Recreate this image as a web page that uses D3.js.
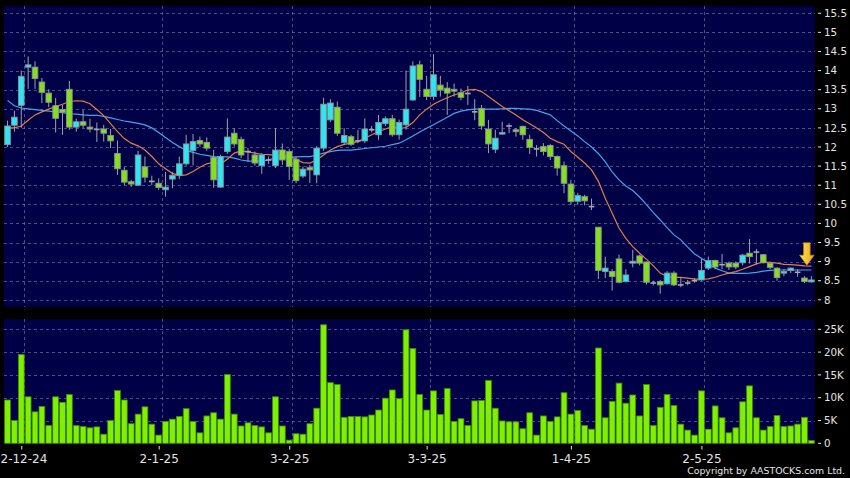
<!DOCTYPE html>
<html><head><meta charset="utf-8">
<script src="https://cdn.jsdelivr.net/npm/d3@7"></script>
<style>html,body{margin:0;padding:0;background:#000;}svg{display:block;}</style>
</head><body>
<svg id="chart" width="850" height="478"></svg>
<script>
const dates = [
"2024-11-28","2024-11-29",
"2024-12-02","2024-12-03","2024-12-04","2024-12-05","2024-12-06",
"2024-12-09","2024-12-10","2024-12-11","2024-12-12","2024-12-13",
"2024-12-16","2024-12-17","2024-12-18","2024-12-19","2024-12-20",
"2024-12-23","2024-12-24","2024-12-27","2024-12-30","2024-12-31",
"2025-01-02","2025-01-03",
"2025-01-06","2025-01-07","2025-01-08","2025-01-09","2025-01-10",
"2025-01-13","2025-01-14","2025-01-15","2025-01-16","2025-01-17",
"2025-01-20","2025-01-21","2025-01-22","2025-01-23","2025-01-24",
"2025-01-27","2025-01-28",
"2025-02-03","2025-02-04","2025-02-05","2025-02-06","2025-02-07",
"2025-02-10","2025-02-11","2025-02-12","2025-02-13","2025-02-14",
"2025-02-17","2025-02-18","2025-02-19","2025-02-20","2025-02-21",
"2025-02-24","2025-02-25","2025-02-26","2025-02-27","2025-02-28",
"2025-03-03","2025-03-04","2025-03-05","2025-03-06","2025-03-07",
"2025-03-10","2025-03-11","2025-03-12","2025-03-13","2025-03-14",
"2025-03-17","2025-03-18","2025-03-19","2025-03-20","2025-03-21",
"2025-03-24","2025-03-25","2025-03-26","2025-03-27","2025-03-28",
"2025-03-31",
"2025-04-01","2025-04-02","2025-04-03",
"2025-04-07","2025-04-08","2025-04-09","2025-04-10","2025-04-11",
"2025-04-14","2025-04-15","2025-04-16","2025-04-17",
"2025-04-22","2025-04-23","2025-04-24","2025-04-25",
"2025-04-28","2025-04-29","2025-04-30",
"2025-05-02",
"2025-05-06","2025-05-07","2025-05-08","2025-05-09",
"2025-05-12","2025-05-13","2025-05-14","2025-05-15","2025-05-16",
"2025-05-19","2025-05-20","2025-05-21","2025-05-22","2025-05-23",
"2025-05-26","2025-05-27"
];
const open = [
12.06,12.57,13.09,14.09,14.09,13.70,13.41,13.08,12.98,13.51,
12.52,12.66,12.52,12.46,12.47,12.30,11.83,11.39,11.09,11.00,
11.48,11.10,11.05,10.88,11.16,11.26,11.56,11.91,12.17,12.12,
11.73,10.95,11.88,12.36,12.20,11.88,11.79,11.51,11.66,11.51,
11.92,11.88,11.68,11.24,11.46,11.27,11.97,12.71,13.04,12.12,
12.27,12.16,12.16,12.45,12.32,12.61,12.74,12.32,12.58,13.23,
14.15,13.51,13.32,13.62,13.54,13.51,13.42,13.40,12.92,13.01,
12.47,11.94,12.34,12.55,12.45,12.54,12.20,11.95,12.01,12.04,
11.75,11.51,11.03,10.58,10.70,10.44,9.90,8.74,8.74,9.07,
8.48,8.96,9.15,8.99,8.44,8.48,8.42,8.70,8.39,8.44,
8.50,8.52,8.83,9.03,8.92,8.96,8.96,8.97,9.22,9.25,
9.18,8.96,8.83,8.70,8.77,8.72,8.57,8.47
];
const close = [
12.55,12.78,13.85,14.15,13.79,13.43,13.17,12.75,12.91,12.52,
12.66,12.57,12.47,12.46,12.36,12.16,11.43,11.08,11.03,11.79,
11.21,11.10,10.94,10.95,11.26,11.56,12.08,12.14,12.08,11.97,
11.14,11.75,12.26,12.08,11.79,11.88,11.58,11.79,11.66,11.92,
11.66,11.49,11.12,11.42,11.40,11.97,13.12,13.15,12.36,12.30,
12.07,12.16,12.47,12.45,12.64,12.74,12.32,12.64,12.99,14.12,
13.77,13.32,13.89,13.49,13.41,13.46,13.30,13.40,12.92,12.55,
12.08,12.23,12.38,12.55,12.40,12.32,11.99,11.95,11.88,11.75,
11.45,11.05,10.57,10.73,10.59,10.44,8.77,8.83,8.61,8.46,
8.65,9.01,8.96,8.46,8.44,8.39,8.70,8.39,8.39,8.44,
8.50,8.77,9.03,8.86,8.92,8.86,8.86,9.17,9.13,9.25,
8.97,8.85,8.58,8.74,8.83,8.72,8.48,8.52
];
const high = [
12.69,12.95,14.00,14.37,14.24,13.81,13.51,13.28,13.10,13.73,
12.74,12.97,12.74,12.64,12.58,12.47,12.17,11.47,11.14,11.90,
11.75,11.25,11.18,11.35,11.34,11.75,12.32,12.34,12.27,12.25,
11.92,11.80,12.75,12.49,12.27,11.97,11.88,11.84,11.75,12.49,
12.09,11.95,11.75,11.49,11.53,12.02,13.29,13.25,13.19,12.49,
12.32,12.45,12.75,12.55,12.84,12.80,12.84,12.72,14.00,14.24,
14.26,13.86,14.43,13.86,13.70,13.66,13.53,13.60,13.25,13.10,
12.71,12.45,12.66,12.62,12.50,12.56,12.32,12.05,12.10,12.08,
11.78,11.62,11.14,10.80,10.75,10.65,9.90,9.13,8.80,9.18,
8.80,9.31,9.18,9.00,8.50,8.52,8.75,8.75,8.58,8.52,
8.57,9.07,9.13,9.05,9.20,9.00,9.00,9.20,9.59,9.33,
9.20,8.98,8.85,8.80,8.85,8.80,8.62,8.62
];
const low = [
12.00,12.40,12.50,13.52,13.52,13.15,13.04,12.38,12.32,12.45,
12.40,12.49,12.38,12.13,12.14,11.97,11.27,11.00,10.96,11.00,
11.07,11.00,10.88,10.70,10.92,11.16,11.51,11.52,12.01,11.90,
10.93,10.93,11.82,12.01,11.71,11.62,11.51,11.30,11.55,11.45,
11.53,11.14,11.05,11.19,11.06,11.05,11.90,12.65,12.29,12.05,
12.03,12.10,12.10,12.38,12.19,12.55,12.27,12.19,12.45,13.20,
13.31,13.23,13.23,13.32,12.84,13.32,13.22,13.10,12.70,12.45,
11.84,11.84,12.32,12.36,12.27,12.19,11.82,11.75,11.78,11.66,
11.25,10.79,10.49,10.49,10.47,10.35,8.54,8.57,8.24,8.43,
8.45,8.85,8.90,8.40,8.38,8.16,8.40,8.36,8.33,8.38,
8.45,8.50,8.78,8.80,8.80,8.78,8.80,8.90,8.95,8.92,
8.95,8.80,8.50,8.62,8.70,8.60,8.44,8.45
];
// volume in thousands of shares
const volumeK = [
9.5,5.0,19.5,10.2,6.9,8.1,3.9,10.2,9.0,10.7,
3.9,3.7,3.4,3.6,2.0,5.0,11.6,9.5,4.3,6.4,
8.0,4.2,1.8,4.8,5.3,5.9,7.6,4.8,2.3,6.0,
6.7,5.3,15.1,6.4,3.8,4.5,3.9,3.6,2.3,10.2,
3.8,0.7,2.1,2.0,4.3,7.7,26.0,13.3,12.9,5.7,
5.9,5.9,5.8,6.2,7.3,9.9,11.7,9.8,24.9,20.8,
10.7,7.3,11.5,6.3,12.0,4.8,5.4,3.9,9.3,9.4,
13.8,7.7,4.9,4.7,4.7,3.2,6.7,1.8,6.0,4.8,
5.8,11.1,6.4,7.2,3.9,3.1,20.9,5.6,9.2,13.2,
8.8,10.6,6.0,12.9,3.9,7.9,10.7,8.3,4.2,2.9,
1.8,11.5,3.1,8.2,5.6,2.3,3.4,9.1,12.6,5.6,
2.9,3.7,6.1,3.7,3.8,4.2,5.7,0.6
];
// moving averages
const ma10 = [
12.50,12.50,12.55,12.70,12.84,12.92,12.99,13.06,13.12,13.19,
13.21,13.20,13.13,12.98,12.82,12.61,12.40,12.22,12.10,12.03,
11.92,11.75,11.56,11.43,11.31,11.25,11.27,11.36,11.47,11.56,
11.60,11.56,11.68,11.84,11.90,11.87,11.84,11.81,11.80,11.78,
11.77,11.77,11.68,11.59,11.58,11.66,11.79,11.92,12.01,12.07,
12.10,12.14,12.23,12.32,12.40,12.47,12.53,12.48,12.51,12.64,
12.84,12.99,13.12,13.21,13.29,13.36,13.42,13.49,13.51,13.45,
13.32,13.19,13.06,12.95,12.84,12.71,12.61,12.50,12.38,12.23,
12.14,12.07,11.88,11.73,11.58,11.40,11.10,10.66,10.27,9.88,
9.61,9.39,9.22,9.06,8.89,8.70,8.61,8.59,8.59,8.57,
8.54,8.54,8.55,8.59,8.65,8.70,8.74,8.80,8.87,8.94,
8.99,8.98,8.96,8.93,8.92,8.91,8.89,8.88
];
const ma20 = [
13.22,13.08,13.02,13.00,12.98,12.96,12.94,12.92,12.90,12.87,
12.86,12.84,12.83,12.83,12.80,12.76,12.72,12.68,12.65,12.62,
12.58,12.50,12.38,12.25,12.12,12.01,11.91,11.86,11.81,11.78,
11.75,11.74,11.74,11.71,11.66,11.63,11.63,11.63,11.66,11.72,
11.72,11.73,11.74,11.75,11.75,11.79,11.84,11.88,11.91,11.92,
11.92,11.94,11.96,11.98,12.00,12.02,12.06,12.10,12.19,12.29,
12.39,12.49,12.58,12.68,12.78,12.88,12.94,12.97,12.99,12.99,
12.99,12.99,13.00,13.01,13.01,13.00,12.99,12.96,12.90,12.84,
12.69,12.55,12.42,12.29,12.14,12.00,11.83,11.61,11.35,11.14,
10.98,10.86,10.69,10.49,10.28,10.09,9.89,9.70,9.57,9.38,
9.20,9.09,8.96,8.83,8.76,8.70,8.69,8.69,8.70,8.72,
8.75,8.77,8.78,8.78,8.78,8.78,8.78,8.78
];
const tickDates = ["2024-12-02","2025-01-02","2025-02-03","2025-03-03","2025-04-01","2025-05-02"];
const tickLabels = ["2-12-24","2-1-25","3-2-25","3-3-25","1-4-25","2-5-25"];
const priceTicks = [8,8.5,9,9.5,10,10.5,11,11.5,12,12.5,13,13.5,14,14.5,15,15.5];
const volumeTicks = [0,5,10,15,20,25];
const volumeTickLabels = ["0","5K","10K","15K","20K","25K"];

const svg = d3.select("#chart");
const FONT = "DejaVu Sans";
const L = 4, R = 814.5;
const pTop = 6, pBot = 306.7, vTop = 319.3, vBot = 443.3;

svg.append("rect").attr("width",850).attr("height",478).attr("fill","#000");

const x = d3.scaleBand().domain(dates).range([4.1, 814.8]).padding(0);
const cx = d => x(d) + x.bandwidth()/2;
const yP = d3.scaleLinear().domain([7.82, 15.69]).range([pBot, pTop]);
const yV = d3.scaleLinear().domain([0, 27.2]).range([vBot, vTop]);

// panels
svg.append("rect").attr("x",L).attr("y",pTop).attr("width",R-L).attr("height",pBot-pTop).attr("fill","#000047");
svg.append("rect").attr("x",L).attr("y",vTop).attr("width",R-L).attr("height",vBot-vTop).attr("fill","#000047");

const gridStyle = s => s.attr("stroke","#8a8ab0").attr("stroke-opacity",0.55).attr("stroke-width",1).attr("stroke-dasharray","3,3").attr("shape-rendering","crispEdges");

// price grid
svg.append("g").selectAll("line").data(priceTicks).join("line")
  .attr("x1",L).attr("x2",R).attr("y1",d=>Math.round(yP(d))+0.5).attr("y2",d=>Math.round(yP(d))+0.5).call(gridStyle);
// volume grid
svg.append("g").selectAll("line").data(volumeTicks.filter(v=>v>0)).join("line")
  .attr("x1",L).attr("x2",R).attr("y1",d=>Math.round(yV(d))+0.5).attr("y2",d=>Math.round(yV(d))+0.5).call(gridStyle);
// vertical grid
[[pTop,pBot],[vTop,vBot]].forEach(([a,b])=>{
  svg.append("g").selectAll("line").data(tickDates).join("line")
    .attr("x1",d=>Math.round(cx(d)+3)+0.5).attr("x2",d=>Math.round(cx(d)+3)+0.5)
    .attr("y1",a).attr("y2",b).call(gridStyle);
});

// moving averages (behind candles)
const lineGen = arr => d3.line().x((d,i)=>cx(dates[i])).y(d=>yP(d))(arr);
svg.append("path").attr("d",lineGen(ma20)).attr("fill","none").attr("stroke","#3fa6ea").attr("stroke-width",1.2);
svg.append("path").attr("d",lineGen(ma10)).attr("fill","none").attr("stroke","#e27d45").attr("stroke-width",1.2);

// candles
const bw = 5.6;
const cg = svg.append("g");
dates.forEach((d,i)=>{
  const c = cx(d);
  const o = open[i], cl = close[i];
  cg.append("line").attr("x1",c).attr("x2",c).attr("y1",yP(high[i])).attr("y2",yP(low[i]))
    .attr("stroke","#a0a0a8").attr("stroke-width",1);
  if (o === cl) {
    cg.append("rect").attr("x",c-bw/2).attr("y",yP(o)-0.8).attr("width",bw).attr("height",1.6).attr("fill","#a8a8b0");
  } else {
    const top = yP(Math.max(o,cl)), bot = yP(Math.min(o,cl));
    cg.append("rect").attr("x",c-bw/2).attr("y",top).attr("width",bw).attr("height",Math.max(1.6,bot-top))
      .attr("fill", cl>o ? "#2ee6f2" : "#84e01e")
      .attr("stroke","#8c9494").attr("stroke-width",0.9);
  }
});

// volume bars
svg.append("g").selectAll("rect").data(volumeK).join("rect")
  .attr("x",(v,i)=>cx(dates[i])-2.9).attr("width",5.8)
  .attr("y",v=>yV(v)).attr("height",v=>vBot-yV(v))
  .attr("fill","#80f000").attr("stroke","#3d8a08").attr("stroke-width",0.8);

// arrow at last MA10 value
const last = dates.length-1;
const tx = cx(dates[last]) - 4.5, ty = yP(ma10[last]) - 1;
const grad = svg.append("defs").append("linearGradient").attr("id","ag").attr("x1","0").attr("x2","1");
grad.append("stop").attr("offset","0").attr("stop-color","#ffe36a");
grad.append("stop").attr("offset","1").attr("stop-color","#e9a800");
svg.append("path").attr("d",`M${tx-3.3},${ty-22.5} L${tx+3.3},${ty-22.5} L${tx+3.3},${ty-10} L${tx+7.3},${ty-10} L${tx},${ty} L${tx-7.3},${ty-10} L${tx-3.3},${ty-10} Z`)
  .attr("fill","url(#ag)").attr("stroke","#c88a00").attr("stroke-width",0.6);

// right axis labels
const axisCol = "#e4e4e4";
svg.append("g").selectAll("g").data(priceTicks).join("g").each(function(v){
  const g = d3.select(this);
  g.append("line").attr("x1",818).attr("x2",821).attr("y1",yP(v)).attr("y2",yP(v)).attr("stroke",axisCol);
  g.append("text").attr("x",824).attr("y",yP(v)).attr("dy","0.36em").text(v)
    .attr("fill",axisCol).attr("font-family",FONT).attr("font-size","10.3px");
});
svg.append("g").selectAll("g").data(volumeTicks).join("g").each(function(v,i){
  const g = d3.select(this);
  g.append("line").attr("x1",818).attr("x2",821).attr("y1",yV(v)).attr("y2",yV(v)).attr("stroke",axisCol);
  g.append("text").attr("x",824).attr("y",yV(v)).attr("dy","0.36em").text(volumeTickLabels[i])
    .attr("fill",axisCol).attr("font-family",FONT).attr("font-size","10.3px");
});

// x axis
svg.append("g").selectAll("g").data(tickDates).join("g").each(function(d,i){
  const g = d3.select(this);
  const px = cx(d)+0.5;
  g.append("line").attr("x1",px).attr("x2",px).attr("y1",446).attr("y2",449.5).attr("stroke",axisCol);
  const t = g.append("text").attr("y",462.5).text(tickLabels[i])
    .attr("fill",axisCol).attr("font-family",FONT).attr("font-size","12px");
  const w = t.node().getComputedTextLength();
  if (px - w/2 < 0.5) t.attr("x",0.5).attr("text-anchor","start");
  else t.attr("x",px).attr("text-anchor","middle");
});

svg.append("text").attr("x",845).attr("y",474.3).attr("text-anchor","end")
  .text("Copyright by AASTOCKS.com Ltd.").attr("fill",axisCol).attr("font-family",FONT).attr("font-size","9.4px");
</script>
</body></html>
